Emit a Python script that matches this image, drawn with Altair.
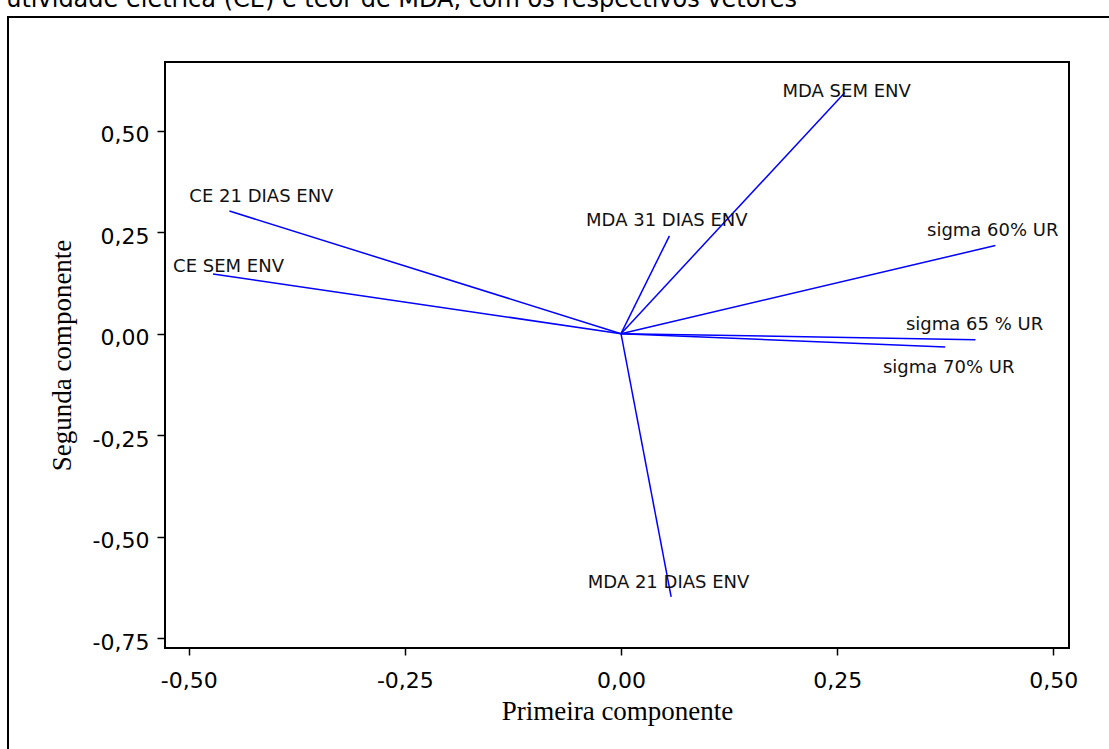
import altair as alt
import pandas as pd

# Loadings (vector end points)
variables = ["MDA SEM ENV", "MDA 31 DIAS ENV", "CE 21 DIAS ENV", "CE SEM ENV",
             "sigma 60% UR", "sigma 65 % UR", "sigma 70% UR", "MDA 21 DIAS ENV"]
pc1 = [0.259, 0.056, -0.453, -0.472, 0.433, 0.410, 0.375, 0.058]
pc2 = [0.594, 0.241, 0.302, 0.147, 0.217, -0.015, -0.033, -0.648]
# where each label sits (data units)
label_pc1 = [0.261, 0.053, -0.416, -0.454, 0.430, 0.409, 0.379, 0.055]
label_pc2 = [0.584, 0.264, 0.325, 0.151, 0.241, 0.009, -0.098, -0.627]

x_ticks = [-0.5, -0.25, 0.0, 0.25, 0.5]
y_ticks = [-0.75, -0.5, -0.25, 0.0, 0.25, 0.5]
x_domain = [-0.5275, 0.5182]
y_domain = [-0.7741, 0.669]

caption = "utividade elétrica (CE) e teor de MDA, com os respectivos vetores"

df = pd.DataFrame({"var": variables, "pc1": pc1, "pc2": pc2,
                   "lx": label_pc1, "ly": label_pc2})

label_expr = "(datum.value < 0 ? '-' : '') + replace(format(abs(datum.value), '.2f'), '.', ',')"

xscale = alt.Scale(domain=x_domain, nice=False, zero=False)
yscale = alt.Scale(domain=y_domain, nice=False, zero=False)

xaxis = alt.Axis(values=x_ticks, labelExpr=label_expr, title="Primeira componente",
                 titleFont="Liberation Serif", titleFontSize=27, titleFontWeight="normal",
                 titleColor="black", titleY=71, titleBaseline="alphabetic",
                 labelFont="DejaVu Sans", labelFontSize=22, labelColor="black",
                 labelPadding=15, tickSize=7, tickColor="black", tickWidth=1.5,
                 domain=False, grid=False)
yaxis = alt.Axis(values=y_ticks, labelExpr=label_expr, title="Segunda componente",
                 titleFont="Liberation Serif", titleFontSize=27, titleFontWeight="normal",
                 titleColor="black", titleX=-95, titleBaseline="alphabetic",
                 labelFont="DejaVu Sans", labelFontSize=22, labelColor="black",
                 labelPadding=8, labelOffset=4, tickSize=8, tickColor="black", tickWidth=1.5,
                 domain=False, grid=False)

base = alt.Chart(df)

vectors = base.mark_rule(color="#0000FF", strokeWidth=1.5).transform_calculate(
    x0="0", y0="0"
).encode(
    x=alt.X("x0:Q", scale=xscale, axis=xaxis),
    y=alt.Y("y0:Q", scale=yscale, axis=yaxis),
    x2="pc1:Q",
    y2="pc2:Q",
)

labels = base.mark_text(font="DejaVu Sans", fontSize=18, color="#111111",
                        align="center", baseline="alphabetic").encode(
    x=alt.X("lx:Q", scale=xscale),
    y=alt.Y("ly:Q", scale=yscale),
    text="var:N",
)

deco = alt.Chart(pd.DataFrame({"caption": [caption]}))
frame = deco.mark_rect(fill=None, stroke="black", strokeWidth=2).encode(
    x=alt.value(-157), x2=alt.value(1100), y=alt.value(-45), y2=alt.value(800)
)
cap = deco.mark_text(font="DejaVu Sans", fontSize=24, color="black",
                     align="right", baseline="alphabetic").encode(
    x=alt.value(632), y=alt.value(-55), text="caption:N"
)

chart = alt.layer(frame, cap, vectors, labels).properties(
    width=904, height=586,
    autosize=alt.AutoSizeParams(type="none"),
    padding={"left": 165, "top": 62, "right": 40, "bottom": 101},
    background="white",
).configure_view(stroke="black", strokeWidth=2)

chart.save("out.html", embed_options={"renderer": "svg", "actions": False})
